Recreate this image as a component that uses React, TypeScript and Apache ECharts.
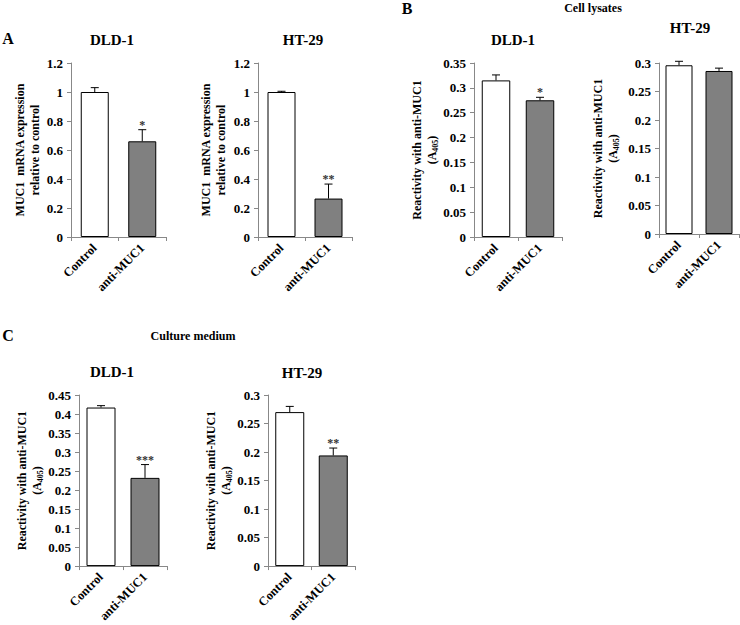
import React, { useEffect, useRef } from 'react';
import * as echarts from 'echarts';

// ---- data ----
const categories = ['Control', 'anti-MUC1'];

const mrnaDld1 = [1.0, 0.66];
const mrnaDld1Err = [0.03, 0.08];
const mrnaDld1Stars = ['', '*'];

const mrnaHt29 = [1.0, 0.265];
const mrnaHt29Err = [0.005, 0.1];
const mrnaHt29Stars = ['', '**'];

const lysDld1 = [0.315, 0.275];
const lysDld1Err = [0.011, 0.006];
const lysDld1Stars = ['', '*'];

const lysHt29 = [0.296, 0.286];
const lysHt29Err = [0.007, 0.005];
const lysHt29Stars = ['', ''];

const medDld1 = [0.417, 0.232];
const medDld1Err = [0.005, 0.035];
const medDld1Stars = ['', '***'];

const medHt29 = [0.27, 0.194];
const medHt29Err = [0.01, 0.013];
const medHt29Stars = ['', '**'];

const panelTitles = ['DLD-1', 'HT-29', 'DLD-1', 'HT-29', 'DLD-1', 'HT-29'];
const yMax = [1.2, 1.2, 0.35, 0.3, 0.45, 0.3];
const yStep = [0.2, 0.2, 0.05, 0.05, 0.05, 0.05];
const mrnaAxisName = 'MUC1  mRNA expression\nrelative to control';
const reactAxisName = 'Reactivity with anti-MUC1\n(A{sub|405})';
const sectionLetters = ['A', 'B', 'C'];
const sectionNotes = ['Cell lysates', 'Culture medium'];

const values = [mrnaDld1, mrnaHt29, lysDld1, lysHt29, medDld1, medHt29];
const errors = [mrnaDld1Err, mrnaHt29Err, lysDld1Err, lysHt29Err, medDld1Err, medHt29Err];
const stars = [mrnaDld1Stars, mrnaHt29Stars, lysDld1Stars, lysHt29Stars, medDld1Stars, medHt29Stars];
const axisNames = [mrnaAxisName, mrnaAxisName, reactAxisName, reactAxisName, reactAxisName, reactAxisName];

// ---- layout ----
const FONT = '"Liberation Serif", "Times New Roman", serif';
const grids = [
  { left: 71, top: 63, width: 95, height: 174 },
  { left: 258, top: 63, width: 94, height: 174 },
  { left: 474, top: 63, width: 88, height: 174 },
  { left: 659, top: 63, width: 80, height: 171 },
  { left: 79, top: 395, width: 88, height: 173 },
  { left: 268, top: 395, width: 87, height: 173 },
];
const barWidths = [28, 28, 28.5, 27, 29, 29];
const nameGaps = [27, 30, 30, 39, 33, 32];
const titlePos = [
  [112, 40], [303, 40], [513, 40], [690, 28], [112, 372], [302, 373],
];
const letterPos = [[8, 38], [407, 8], [8, 335]];
const notePos = [[593, 8], [193, 336]];

export default function App() {
  const ref = useRef<HTMLDivElement>(null);
  useEffect(() => {
    if (!ref.current) return;
    const chart = echarts.init(ref.current, null, { renderer: 'svg' });

    const grid: any[] = [];
    const xAxis: any[] = [];
    const yAxis: any[] = [];
    const series: any[] = [];
    const graphic: any[] = [];

    for (let i = 0; i < 6; i++) {
      grid.push({ ...grids[i], containLabel: false });
      xAxis.push({
        type: 'category',
        gridIndex: i,
        data: categories,
        axisLine: { lineStyle: { color: '#888', width: 1 } },
        axisTick: { show: true, length: 4, lineStyle: { color: '#888' } },
        axisLabel: {
          rotate: 45,
          interval: 0,
          margin: 9,
          color: '#000',
          fontFamily: FONT,
          fontWeight: 'bold',
          fontSize: 12.5,
        },
      });
      yAxis.push({
        type: 'value',
        gridIndex: i,
        min: 0,
        max: yMax[i],
        interval: yStep[i],
        splitLine: { show: false },
        axisLine: { show: true, lineStyle: { color: '#888', width: 1 } },
        axisTick: { show: true, length: 4, lineStyle: { color: '#888' } },
        axisLabel: {
          color: '#000',
          fontFamily: FONT,
          fontWeight: 'bold',
          fontSize: 13,
          margin: 8,
        },
        name: axisNames[i],
        nameLocation: 'middle',
        nameRotate: 90,
        nameGap: nameGaps[i],
        nameTextStyle: {
          color: '#000',
          fontFamily: FONT,
          fontWeight: 'bold',
          fontSize: 12,
          lineHeight: 15,
          rich: {
            sub: {
              fontFamily: FONT,
              fontWeight: 'bold',
              fontSize: 8,
              color: '#000',
              verticalAlign: 'bottom',
              lineHeight: 15,
              padding: [4, 0, 0, 0],
            },
          },
        },
      });
      series.push({
        type: 'bar',
        xAxisIndex: i,
        yAxisIndex: i,
        barWidth: barWidths[i],
        data: values[i].map((v, k) => ({
          value: v,
          itemStyle: {
            color: k === 0 ? '#ffffff' : '#808080',
            borderColor: '#000',
            borderWidth: 1,
          },
        })),
        z: 2,
      });
      const errs = errors[i];
      const st = stars[i];
      series.push({
        type: 'custom',
        xAxisIndex: i,
        yAxisIndex: i,
        z: 5,
        data: values[i].map((v, k) => [k, v, errs[k]]),
        renderItem: (params: any, api: any) => {
          const cat = api.value(0);
          const v = api.value(1);
          const e = api.value(2);
          const base = api.coord([cat, v]);
          const top = api.coord([cat, v + e]);
          const cap = 4;
          const children: any[] = [
            {
              type: 'line',
              shape: { x1: base[0], y1: base[1], x2: top[0], y2: top[1] },
              style: { stroke: '#000', lineWidth: 1 },
            },
            {
              type: 'line',
              shape: { x1: top[0] - cap, y1: top[1], x2: top[0] + cap, y2: top[1] },
              style: { stroke: '#000', lineWidth: 1 },
            },
          ];
          const s = st[params.dataIndex];
          if (s) {
            children.push({
              type: 'text',
              x: top[0],
              y: top[1] + 1,
              style: {
                text: s,
                fill: '#333',
                font: `bold 12px ${FONT}`,
                align: 'center',
                verticalAlign: 'bottom',
              },
            });
          }
          return { type: 'group', children };
        },
      });
      graphic.push({
        type: 'text',
        x: titlePos[i][0],
        y: titlePos[i][1],
        style: {
          text: panelTitles[i],
          fill: '#000',
          font: `bold 15px ${FONT}`,
          align: 'center',
          verticalAlign: 'middle',
        },
      });
    }
    sectionLetters.forEach((l, k) => {
      graphic.push({
        type: 'text',
        x: letterPos[k][0],
        y: letterPos[k][1],
        style: {
          text: l,
          fill: '#000',
          font: `bold 16px ${FONT}`,
          align: 'center',
          verticalAlign: 'middle',
        },
      });
    });
    sectionNotes.forEach((n, k) => {
      graphic.push({
        type: 'text',
        x: notePos[k][0],
        y: notePos[k][1],
        style: {
          text: n,
          fill: '#000',
          font: `bold 12px ${FONT}`,
          align: 'center',
          verticalAlign: 'middle',
        },
      });
    });

    chart.setOption({
      animation: false,
      backgroundColor: '#ffffff',
      grid,
      xAxis,
      yAxis,
      series,
      graphic,
    });
    return () => chart.dispose();
  }, []);
  return (
    <div
      ref={ref}
      style={{ position: 'absolute', left: 0, top: 0, width: 740, height: 625 }}
    />
  );
}
